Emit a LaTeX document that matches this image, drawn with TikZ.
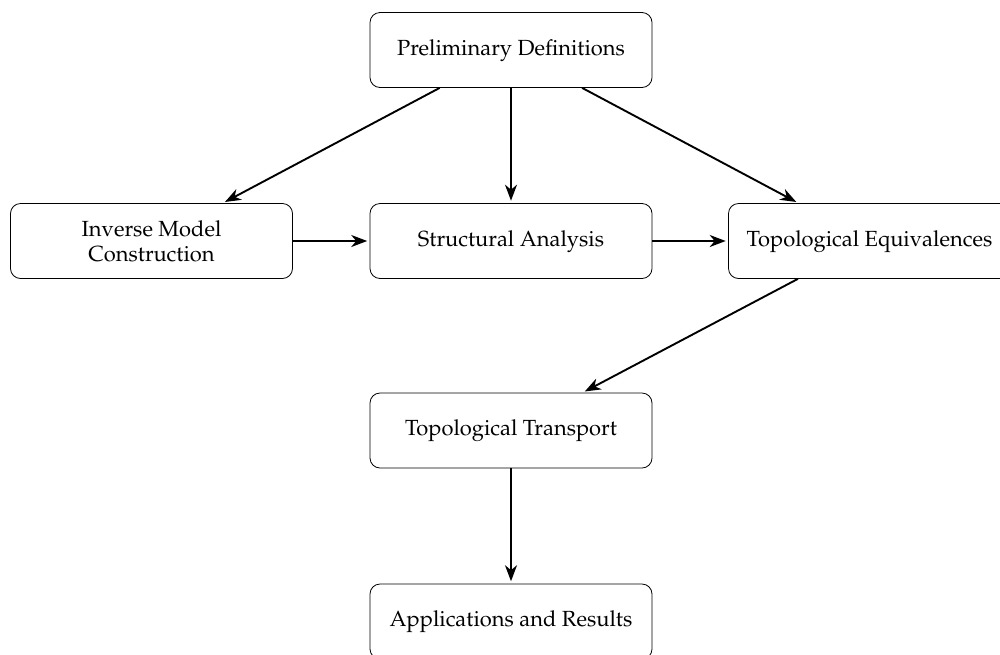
\documentclass[tikz,border=0pt]{standalone}
\usepackage[T1]{fontenc}
\usepackage{mathpazo}
\usetikzlibrary{arrows.meta}
\tikzset{
  stage/.style={draw, rounded corners=5pt, minimum width=141pt, minimum height=37.5pt,
    align=center, inner sep=3pt, font=\fontsize{10.95}{12.4}\selectfont},
  oneline/.style={stage, text height=7.5pt, text depth=2.5pt},
  flow/.style={-{Stealth[length=8pt,width=6pt,inset=2.5pt]}, line width=0.95pt, shorten >=1.2pt}
}
\begin{document}
\begin{tikzpicture}[x=0.5pt,y=-0.5pt]
  \clip (0,0) rectangle (1000,654);
  \useasboundingbox (0,0) rectangle (1000,654);
  \node[oneline] (prelim)  at (511,50)      {Preliminary Definitions};
  \node[stage]   (inverse) at (151.5,241)   {Inverse Model\\Construction};
  \node[oneline] (struct)  at (511,241)     {Structural Analysis};
  \node[oneline] (equiv)   at (869.5,241)   {Topological Equivalences};
  \node[oneline] (transp)  at (511,430.5)   {Topological Transport};
  \node[oneline] (appl)    at (511,621.5)   {Applications and Results};

  \draw[flow] (prelim) -- (inverse);
  \draw[flow] (prelim) -- (struct);
  \draw[flow] (prelim) -- (equiv);
  \draw[flow] (inverse) -- (struct);
  \draw[flow] (struct) -- (equiv);
  \draw[flow] (equiv) -- (transp);
  \draw[flow] (transp) -- (appl);
\end{tikzpicture}
\end{document}
